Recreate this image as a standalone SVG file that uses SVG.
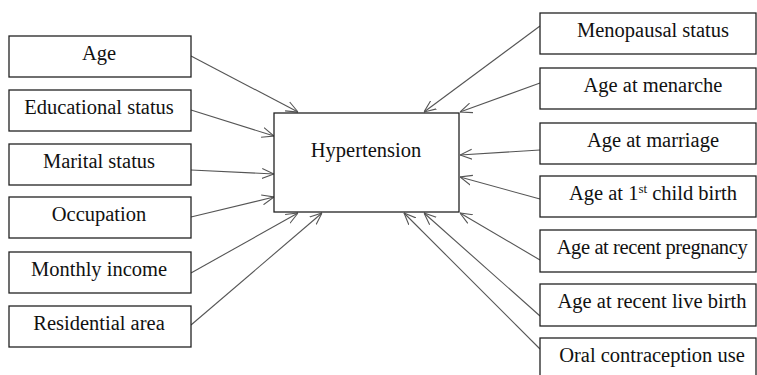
<svg xmlns="http://www.w3.org/2000/svg" width="757" height="375" viewBox="0 0 757 375">
<style>
.box{fill:#fff;stroke:#222;stroke-width:1.3}
.t{font-family:"Liberation Serif","Times New Roman",serif;font-size:20.5px;fill:#111;text-anchor:middle}
.c{stroke:#555;stroke-width:1.1;fill:none;marker-end:url(#ah)}
</style>
<defs>
<marker id="ah" viewBox="0 0 12 12" refX="12" refY="6" markerWidth="12" markerHeight="12" markerUnits="userSpaceOnUse" orient="auto">
<path d="M0,1 L12,6 L0,11" fill="none" stroke="#555" stroke-width="1.1"/>
</marker>
</defs>
<rect width="757" height="375" fill="#fff"/>
<g id="connectors">
<line class="c" x1="191" y1="56" x2="298" y2="112"/>
<line class="c" x1="191" y1="110" x2="274" y2="136"/>
<line class="c" x1="191" y1="170" x2="274" y2="174"/>
<line class="c" x1="191" y1="217" x2="274" y2="197"/>
<line class="c" x1="191" y1="273" x2="298" y2="213"/>
<line class="c" x1="191" y1="325" x2="322" y2="213"/>
<line class="c" x1="540" y1="26" x2="424" y2="112"/>
<line class="c" x1="540" y1="83" x2="460" y2="112"/>
<line class="c" x1="540" y1="150" x2="460" y2="155"/>
<line class="c" x1="540" y1="199" x2="460" y2="177"/>
<line class="c" x1="540" y1="260" x2="460" y2="213"/>
<line class="c" x1="540" y1="316" x2="424" y2="213"/>
<line class="c" x1="540" y1="349" x2="404" y2="213"/>
</g>
<g id="hypertension"><rect class="box" x="274" y="113" width="185" height="99"/><text class="t" x="366" y="157">Hypertension</text></g>
<g id="age"><rect class="box" x="9" y="36" width="182" height="41"/><text class="t" x="99" y="60">Age</text></g>
<g id="educational"><rect class="box" x="9" y="90" width="182" height="41"/><text class="t" x="99" y="114">Educational status</text></g>
<g id="marital"><rect class="box" x="9" y="144" width="182" height="41"/><text class="t" x="99" y="168">Marital status</text></g>
<g id="occupation"><rect class="box" x="9" y="197" width="182" height="41"/><text class="t" x="99" y="221">Occupation</text></g>
<g id="income"><rect class="box" x="9" y="252" width="182" height="41"/><text class="t" x="99" y="276">Monthly income</text></g>
<g id="residential"><rect class="box" x="9" y="306" width="182" height="41"/><text class="t" x="99" y="330">Residential area</text></g>
<g id="menopausal"><rect class="box" x="540" y="13" width="216" height="41"/><text class="t" x="653" y="37">Menopausal status</text></g>
<g id="menarche"><rect class="box" x="540" y="68" width="216" height="41"/><text class="t" x="653" y="92">Age at menarche</text></g>
<g id="marriage"><rect class="box" x="540" y="123" width="216" height="41"/><text class="t" x="653" y="147">Age at marriage</text></g>
<g id="firstchild"><rect class="box" x="540" y="176" width="216" height="41"/><text class="t" x="653" y="200">Age at 1<tspan dy="-7" font-size="13">st</tspan><tspan dy="7"> child birth</tspan></text></g>
<g id="pregnancy"><rect class="box" x="540" y="230" width="216" height="42"/><text class="t" x="652" y="254" letter-spacing="-0.4">Age at recent pregnancy</text></g>
<g id="livebirth"><rect class="box" x="540" y="284" width="216" height="42"/><text class="t" x="652" y="308">Age at recent live birth</text></g>
<g id="oral"><rect class="box" x="540" y="338" width="216" height="42"/><text class="t" x="652" y="362">Oral contraception use</text></g>
</svg>
